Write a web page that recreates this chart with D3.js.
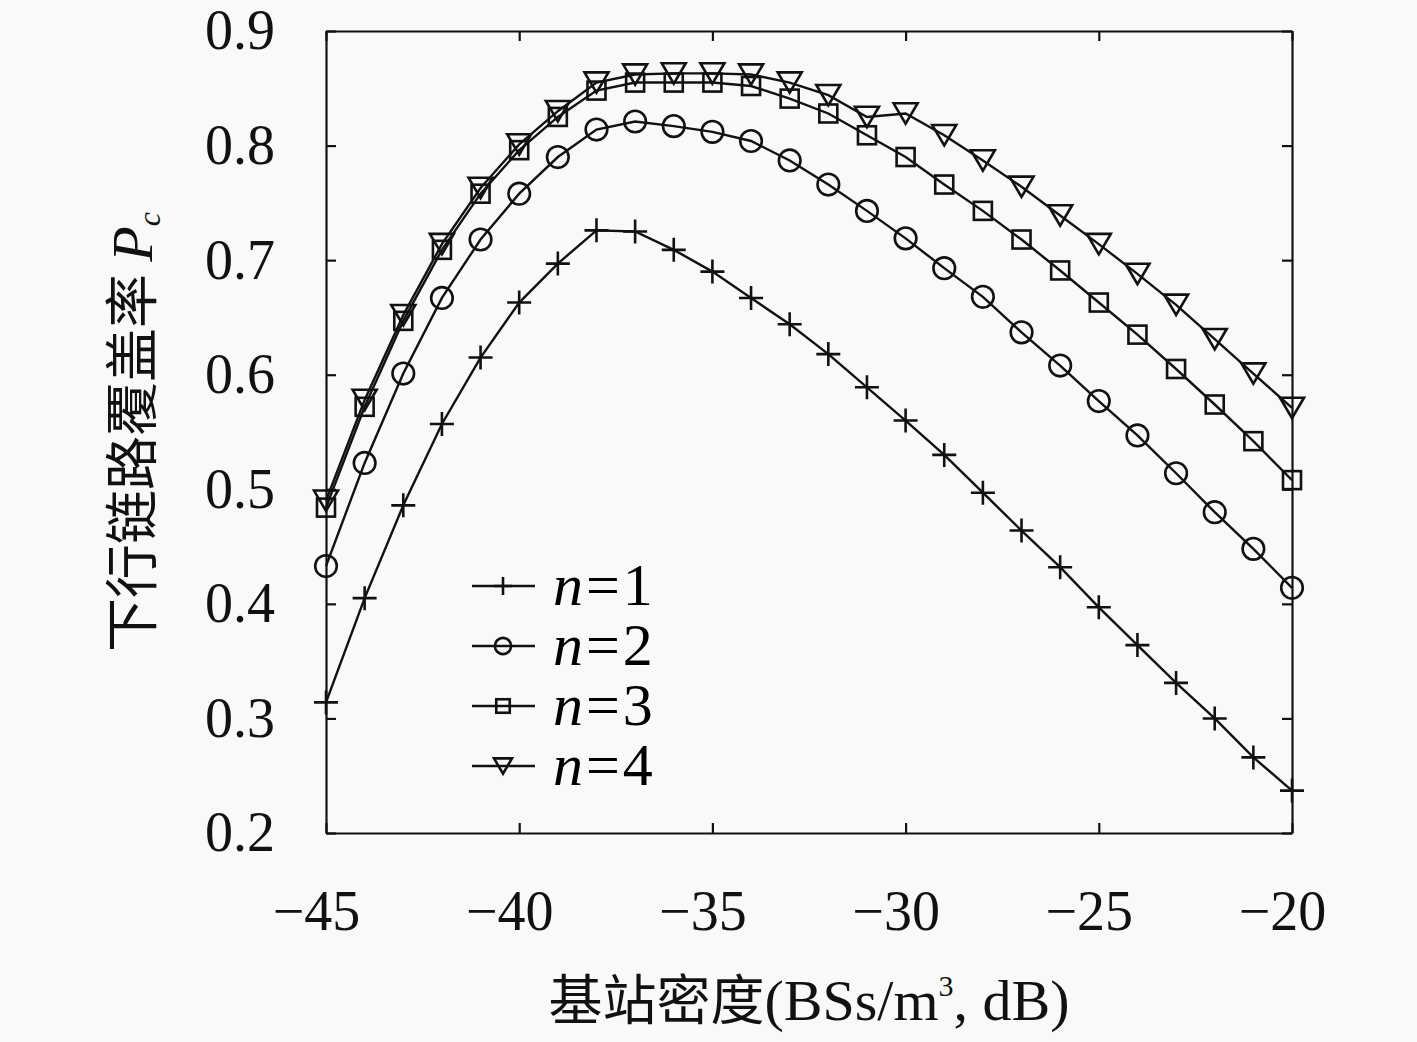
<!DOCTYPE html>
<html lang="zh">
  <head>
    <meta charset="UTF-8" />
    <script src="https://d3js.org/d3.v7.min.js"></script>
    <style>
      body { margin: 0; background: #f9f9f9; }
      svg { display: block; }
      .axis text { font-family: "Liberation Serif", serif; font-size: 56px; fill: #111; }
      .axis path, .axis line { stroke: #111; stroke-width: 2.2; }
      .series path.line { fill: none; stroke: #111; stroke-width: 2.4; }
      .mark { fill: none; stroke: #111; stroke-width: 2.6; }
      .label { font-family: "Noto Sans CJK SC", sans-serif; font-size: 54px; fill: #111; }
      .latin { font-family: "Liberation Serif", serif; font-size: 58px; }
    </style>
  </head>
  <body>
    <svg id="chart" width="1417" height="1042"></svg>
    <script>
      // data
      const densities = d3.range(-45, -19, 1); // -45 ... -20 dB
      const n1 = [0.314, 0.405, 0.486, 0.557, 0.615, 0.663, 0.697, 0.726, 0.725, 0.709, 0.690, 0.667, 0.644,
                  0.618, 0.589, 0.560, 0.530, 0.497, 0.464, 0.432, 0.397, 0.364, 0.331, 0.300, 0.266, 0.237];
      const n2 = [0.433, 0.523, 0.601, 0.667, 0.718, 0.758, 0.790, 0.814, 0.821, 0.817, 0.812, 0.804, 0.787,
                  0.766, 0.743, 0.719, 0.693, 0.668, 0.637, 0.608, 0.577, 0.547, 0.514, 0.480, 0.448, 0.414];
      const n3 = [0.484, 0.572, 0.647, 0.709, 0.758, 0.796, 0.825, 0.848, 0.855, 0.855, 0.855, 0.852, 0.841,
                  0.828, 0.809, 0.790, 0.766, 0.743, 0.718, 0.691, 0.663, 0.635, 0.605, 0.574, 0.542, 0.508];
      const n4 = [0.490, 0.578, 0.652, 0.714, 0.763, 0.801, 0.830, 0.855, 0.862, 0.863, 0.863, 0.862, 0.855,
                  0.844, 0.825, 0.828, 0.809, 0.787, 0.764, 0.739, 0.714, 0.688, 0.661, 0.631, 0.601, 0.571];
      const seriesNames = ["1", "2", "3", "4"];
      const seriesMarkers = ["plus", "circle", "square", "triangle"];
      const xTicks = [-45, -40, -35, -30, -25, -20];
      const yTicks = [0.2, 0.3, 0.4, 0.5, 0.6, 0.7, 0.8, 0.9];

      const series = [n1, n2, n3, n4].map((vals, i) => ({
        name: seriesNames[i],
        marker: seriesMarkers[i],
        points: vals.map((v, j) => [densities[j], v])
      }));

      const svg = d3.select("#chart");
      const margin = { left: 326, top: 31, right: 1292, bottom: 833 };

      const x = d3.scaleLinear().domain([-45, -20]).range([margin.left, margin.right]);
      const y = d3.scaleLinear().domain([0.2, 0.9]).range([margin.bottom, margin.top]);

      // marker shapes, drawn around (0,0)
      function marker(sel, kind, s) {
        if (kind === "plus") {
          sel.append("path").attr("class", "mark").attr("d", `M${-s},0H${s}M0,${-s}V${s}`);
        } else if (kind === "circle") {
          sel.append("circle").attr("class", "mark").attr("r", s * 0.9);
        } else if (kind === "square") {
          const h = s * 0.75;
          sel.append("rect").attr("class", "mark").attr("x", -h).attr("y", -h).attr("width", 2 * h).attr("height", 2 * h);
        } else {
          const w = s, h = s * 0.85;
          sel.append("path").attr("class", "mark").attr("d", `M${-w},${-h}L${w},${-h}L0,${h}Z`);
        }
      }

      // axes with inward ticks on all four sides
      const bottom = svg.append("g").attr("class", "axis")
        .attr("transform", `translate(0,${margin.bottom})`)
        .call(d3.axisBottom(x).tickValues(xTicks).tickSizeInner(-10).tickSizeOuter(0).tickPadding(57));
      bottom.selectAll(".tick text").attr("dx", -10);
      svg.append("g").attr("class", "axis")
        .attr("transform", `translate(0,${margin.top})`)
        .call(d3.axisTop(x).tickValues(xTicks).tickSizeInner(-10).tickSizeOuter(0).tickFormat(""));
      svg.append("g").attr("class", "axis")
        .attr("transform", `translate(${margin.left},0)`)
        .call(d3.axisLeft(y).tickValues(yTicks).tickSizeInner(-10).tickSizeOuter(0).tickPadding(51).tickFormat(d3.format(".1f")));
      svg.append("g").attr("class", "axis")
        .attr("transform", `translate(${margin.right},0)`)
        .call(d3.axisRight(y).tickValues(yTicks).tickSizeInner(-10).tickSizeOuter(0).tickFormat(""));

      // lines + markers
      const line = d3.line().x(d => x(d[0])).y(d => y(d[1]));
      const g = svg.selectAll("g.series").data(series).join("g").attr("class", "series");
      g.append("path").attr("class", "line").attr("d", d => line(d.points));
      g.each(function (s) {
        d3.select(this).selectAll("g.pt").data(s.points).join("g")
          .attr("class", "pt")
          .attr("transform", d => `translate(${x(d[0])},${y(d[1])})`)
          .each(function () { marker(d3.select(this), s.marker, 12); });
      });

      // legend (no box)
      const leg = svg.append("g").selectAll("g").data(series).join("g")
        .attr("transform", (d, i) => `translate(472,${586 + i * 60})`);
      leg.append("line").attr("x1", 0).attr("x2", 63).attr("stroke", "#111").attr("stroke-width", 2.6);
      leg.each(function (s) {
        marker(d3.select(this).append("g").attr("transform", "translate(31,0)"), s.marker, 9);
      });
      const lt = leg.append("text").attr("class", "latin").attr("x", 81).attr("y", 19).style("font-size", "60px");
      lt.append("tspan").attr("font-style", "italic").text("n");
      lt.append("tspan").attr("dx", 3).text("=");
      lt.append("tspan").attr("dx", 3).text(d => d.name);

      // axis titles
      const xl = svg.append("text").attr("class", "label")
        .attr("x", (margin.left + margin.right) / 2).attr("y", 1020).attr("text-anchor", "middle");
      xl.append("tspan").text("基站密度");
      xl.append("tspan").attr("class", "latin").text("(BSs/m");
      xl.append("tspan").attr("class", "latin").style("font-size", "30px").attr("dy", -24).text("3");
      xl.append("tspan").attr("class", "latin").attr("dy", 24).text(", dB)");

      const yl = svg.append("text").attr("class", "label")
        .attr("transform", `translate(152,${(margin.top + margin.bottom) / 2}) rotate(-90)`)
        .attr("text-anchor", "middle");
      yl.append("tspan").text("下行链路覆盖率 ");
      yl.append("tspan").attr("class", "latin").attr("font-style", "italic").text("P");
      yl.append("tspan").attr("class", "latin").attr("font-style", "italic").style("font-size", "32px").attr("dy", 8).text("c");
    </script>
  </body>
</html>
